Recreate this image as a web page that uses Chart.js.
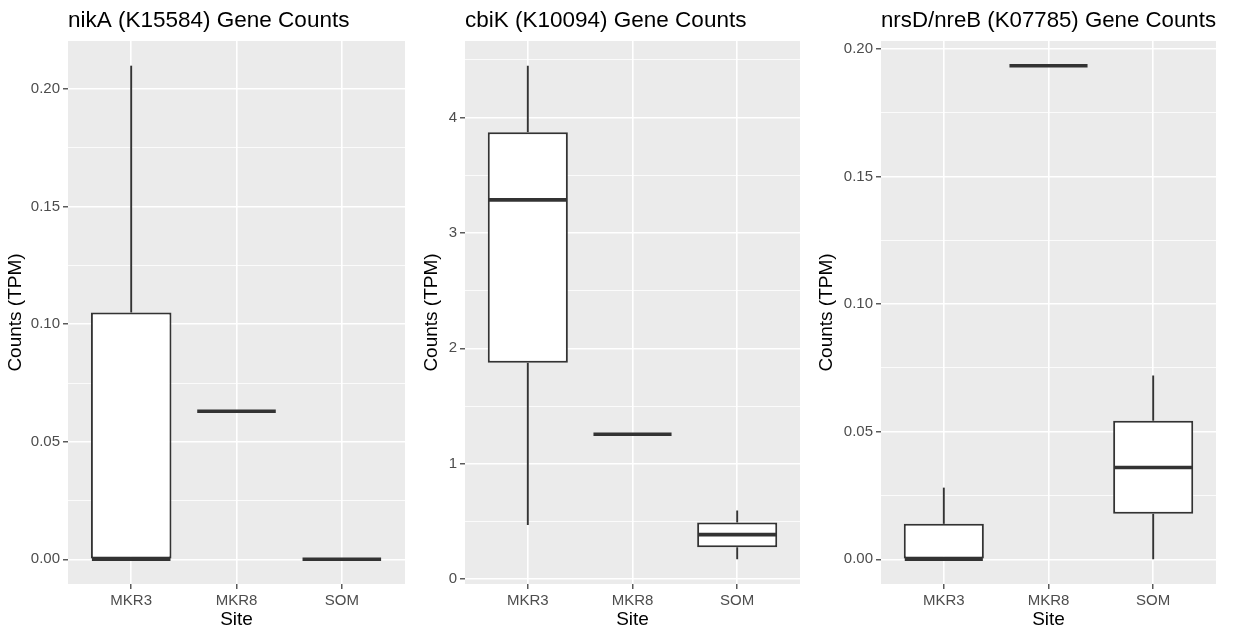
<!doctype html>
<html lang="en">
<head>
	<meta charset="utf-8">
	<title>Gene Counts</title>
	<script src="https://cdn.jsdelivr.net/npm/chart.js@4.4.1/dist/chart.umd.min.js"></script>
	<style>
		html, body { margin: 0; padding: 0; background: #fff; }
		body { width: 1244px; height: 632px; position: relative; overflow: hidden; }
		canvas { position: absolute; top: 0; }
	</style>
</head>

<body>
	<canvas id="nikaChart" width="415" height="632" style="left:0px"></canvas>
	<canvas id="cbikChart" width="395" height="632" style="left:415px"></canvas>
	<canvas id="nrsdChart" width="434" height="632" style="left:810px"></canvas>

	<script>
		var sites = ['MKR3', 'MKR8', 'SOM'];

		// nikA (K15584)
		var nikaMin = [0, 0.063, 0];
		var nikaQ1 = [0, 0.063, 0];
		var nikaMedian = [0, 0.063, 0];
		var nikaQ3 = [0.105, 0.063, 0];
		var nikaMax = [0.21, 0.063, 0];
		var nikaTicks = [0, 0.05, 0.10, 0.15, 0.20];
		var nikaTickLabels = ['0.00', '0.05', '0.10', '0.15', '0.20'];
		var nikaMinorTicks = [0.025, 0.075, 0.125, 0.175];

		// cbiK (K10094)
		var cbikMin = [0.468, 1.255, 0.171];
		var cbikQ1 = [1.874, 1.255, 0.276];
		var cbikMedian = [3.287, 1.255, 0.385];
		var cbikQ3 = [3.874, 1.255, 0.49];
		var cbikMax = [4.45, 1.255, 0.595];
		var cbikTicks = [0, 1, 2, 3, 4];
		var cbikTickLabels = ['0', '1', '2', '3', '4'];
		var cbikMinorTicks = [0.5, 1.5, 2.5, 3.5, 4.5];

		// nrsD/nreB (K07785)
		var nrsdMin = [0, 0.1935, 0];
		var nrsdQ1 = [0, 0.1935, 0.0179];
		var nrsdMedian = [0, 0.1935, 0.036];
		var nrsdQ3 = [0.0139, 0.1935, 0.0543];
		var nrsdMax = [0.0281, 0.1935, 0.0721];
		var nrsdTicks = [0, 0.05, 0.10, 0.15, 0.20];
		var nrsdTickLabels = ['0.00', '0.05', '0.10', '0.15', '0.20'];
		var nrsdMinorTicks = [0.025, 0.075, 0.125, 0.175];

		var fontFamily = "'Liberation Sans', Arial, Helvetica, sans-serif";
		var lineColor = '#333333';

		// grey panel behind the grid, like theme_grey
		var panelBackground = {
			id: 'panelBackground',
			beforeDraw: function(chart) {
				var a = chart.chartArea, ctx = chart.ctx;
				ctx.save();
				ctx.fillStyle = '#EBEBEB';
				ctx.fillRect(a.left, a.top, a.right - a.left, a.bottom - a.top);
				ctx.restore();
			}
		};

		// whiskers go under the boxes, medians on top
		var boxParts = {
			id: 'boxParts',
			beforeDatasetsDraw: function(chart, args, opts) {
				var ctx = chart.ctx, y = chart.scales.y, s = opts.stats;
				var bars = chart.getDatasetMeta(0).data;
				ctx.save();
				ctx.strokeStyle = lineColor;
				ctx.lineWidth = 1.9;
				bars.forEach(function(bar, i) {
					ctx.beginPath();
					ctx.moveTo(bar.x, y.getPixelForValue(s.q3[i]));
					ctx.lineTo(bar.x, y.getPixelForValue(s.max[i]));
					ctx.moveTo(bar.x, y.getPixelForValue(s.q1[i]));
					ctx.lineTo(bar.x, y.getPixelForValue(s.min[i]));
					ctx.stroke();
				});
				ctx.restore();
			},
			afterDatasetsDraw: function(chart, args, opts) {
				var ctx = chart.ctx, y = chart.scales.y, s = opts.stats;
				var bars = chart.getDatasetMeta(0).data;
				ctx.save();
				ctx.strokeStyle = lineColor;
				ctx.lineWidth = 3.6;
				bars.forEach(function(bar, i) {
					var half = bar.width / 2 - 1;
					var py = y.getPixelForValue(s.median[i]);
					ctx.beginPath();
					ctx.moveTo(bar.x - half, py);
					ctx.lineTo(bar.x + half, py);
					ctx.stroke();
				});
				ctx.restore();
			}
		};

		function makePanel(id, title, stats, ticks, tickLabels, minorTicks, yAxisWidth, yTitlePad, rightPad) {
			var lo = Math.min.apply(null, stats.min), hi = Math.max.apply(null, stats.max);
			var pad = (hi - lo) * 0.05;
			var allTicks = ticks.map(function(v) { return { value: v }; })
				.concat(minorTicks.map(function(v) { return { value: v, minor: true }; }))
				.sort(function(a, b) { return a.value - b.value; });

			return new Chart(document.getElementById(id), {
				type: 'bar',
				data: {
					datasets: [{
						data: sites.map(function(s, i) { return { x: i + 1, y: [stats.q1[i], stats.q3[i]] }; }),
						backgroundColor: '#FFFFFF',
						borderColor: lineColor,
						borderWidth: 2,
						borderSkipped: false,
						barPercentage: 0.765,
						categoryPercentage: 1.0
					}]
				},
				options: {
					responsive: false,
					animation: false,
					devicePixelRatio: 1,
					layout: { autoPadding: false, padding: { left: 0, right: rightPad, top: 0, bottom: 0 } },
					plugins: {
						legend: { display: false },
						tooltip: { enabled: false },
						title: {
							display: true,
							text: title,
							align: 'start',
							fullSize: false,
							color: '#000000',
							font: { family: fontFamily, size: 22.5, weight: 'normal' },
							padding: { top: 7.5, bottom: 6.5 }
						},
						boxParts: { stats: stats }
					},
					scales: {
						x: {
							type: 'linear',
							min: 0.4,
							max: 3.6,
							offset: false,
							border: { display: false },
							grid: { offset: false, color: '#FFFFFF', lineWidth: 1.6, tickColor: lineColor, tickLength: 5, tickWidth: 1.2 },
							afterBuildTicks: function(scale) {
								scale.ticks = sites.map(function(s, i) { return { value: i + 1 }; });
							},
							afterFit: function(scale) { scale.height = 48; },
							ticks: {
								autoSkip: false,
								maxRotation: 0,
								padding: 2.5,
								color: '#4D4D4D',
								font: { family: fontFamily, size: 15 },
								callback: function(value) { return sites[value - 1]; }
							},
							title: {
								display: true,
								text: 'Site',
								color: '#000000',
								font: { family: fontFamily, size: 19 },
								padding: { top: 0, bottom: 0.6 }
							}
						},
						y: {
							type: 'linear',
							min: lo - pad,
							max: hi + pad,
							border: { display: false },
							grid: {
								color: '#FFFFFF',
								lineWidth: function(c) { return c.tick && c.tick.minor ? 0.8 : 1.6; },
								tickColor: function(c) { return c.tick && c.tick.minor ? 'rgba(0,0,0,0)' : lineColor; },
								tickLength: 5,
								tickWidth: 1.2
							},
							afterBuildTicks: function(scale) { scale.ticks = allTicks; },
							afterFit: function(scale) { scale.width = yAxisWidth; },
							ticks: {
								autoSkip: false,
								padding: 3,
								color: '#4D4D4D',
								font: { family: fontFamily, size: 15 },
								callback: function(value) {
									var k = ticks.indexOf(value);
									return k >= 0 ? tickLabels[k] : '';
								}
							},
							title: {
								display: true,
								text: 'Counts (TPM)',
								color: '#000000',
								font: { family: fontFamily, size: 19 },
								padding: { top: yTitlePad, bottom: 0 }
							}
						}
					}
				},
				plugins: [panelBackground, boxParts]
			});
		}

		makePanel('nikaChart', 'nikA (K15584) Gene Counts',
			{ min: nikaMin, q1: nikaQ1, median: nikaMedian, q3: nikaQ3, max: nikaMax },
			nikaTicks, nikaTickLabels, nikaMinorTicks, 68, 4.1, 10);

		makePanel('cbikChart', 'cbiK (K10094) Gene Counts',
			{ min: cbikMin, q1: cbikQ1, median: cbikMedian, q3: cbikQ3, max: cbikMax },
			cbikTicks, cbikTickLabels, cbikMinorTicks, 50, 5.6, 10);

		makePanel('nrsdChart', 'nrsD/nreB (K07785) Gene Counts',
			{ min: nrsdMin, q1: nrsdQ1, median: nrsdMedian, q3: nrsdQ3, max: nrsdMax },
			nrsdTicks, nrsdTickLabels, nrsdMinorTicks, 71, 5.6, 28);
	</script>
</body>
</html>
